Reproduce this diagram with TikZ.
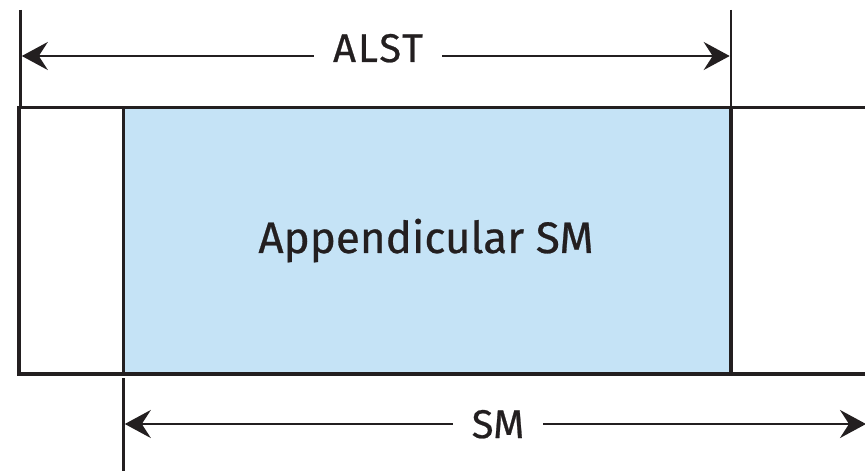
\documentclass[tikz,border=0pt]{standalone}
\usepackage{fontspec}
\setmainfont{Fira Sans}[FakeBold=0.6]
\newfontfamily\spacedfont{Fira Sans}[FakeBold=0.6,LetterSpace=5]
\usetikzlibrary{arrows.meta}
\definecolor{ink}{HTML}{231F20}
\definecolor{paleblue}{HTML}{C5E3F6}
\tikzset{
  frame/.style={draw=ink, line width=3.2pt},
  tick/.style={draw=ink, line width=2.6pt},
  dimline/.style={draw=ink, line width=2.6pt, {Stealth[length=26pt,width=28pt,inset=9pt]}-{Stealth[length=26pt,width=28pt,inset=9pt]}},
  dimlabel/.style={fill=white, text=ink, inner xsep=19pt, inner ysep=2pt, anchor=base, font=\fontsize{40}{44}\selectfont},
}
\begin{document}
\begin{tikzpicture}[x=1pt,y=-1pt]
\useasboundingbox (0,0) rectangle (865,473);
% blue region
\node[fill=paleblue, draw=none, minimum width=607.5pt, minimum height=266.5pt, anchor=north west, inner sep=0pt, outer sep=0pt] (blue) at (123.5,107.5) {};
\node[text=ink, anchor=base, inner sep=0pt, font=\fontsize{44}{48}\selectfont] (title) at (426,253) {Appendicular SM};
% outer frame (open to the right)
\coordinate (oTR) at (870,107.5);
\coordinate (oTL) at (19,107.5);
\coordinate (oBL) at (19,374);
\coordinate (oBR) at (870,374);
\draw[frame] (oTR) -- (oTL) -- (oBL) -- (oBR);
\draw[frame] (blue.north west) -- (blue.south west);
\draw[frame] (blue.north east) -- (blue.south east);
% ticks
\coordinate (t1a) at (20.5,10);
\coordinate (t1b) at (20.5,107.5);
\coordinate (t2a) at (731,10);
\coordinate (t2b) at (731,107.5);
\coordinate (t3a) at (123.5,378);
\coordinate (t3b) at (123.5,471);
\draw[tick] (t1a) -- (t1b);
\draw[tick] (t2a) -- (t2b);
\draw[tick] (t3a) -- (t3b);
% dimension arrows
\coordinate (a1) at (21.8,56);
\coordinate (a2) at (729.7,56);
\draw[dimline] (a1) -- (a2);
\node[dimlabel, font=\fontsize{40}{44}\spacedfont] (alst) at (378,62) {ALST};
\coordinate (s1) at (124.8,424);
\coordinate (s2) at (866,424);
\draw[dimline] (s1) -- (s2);
\node[dimlabel] (sm) at (498,438) {SM};
\end{tikzpicture}
\end{document}
